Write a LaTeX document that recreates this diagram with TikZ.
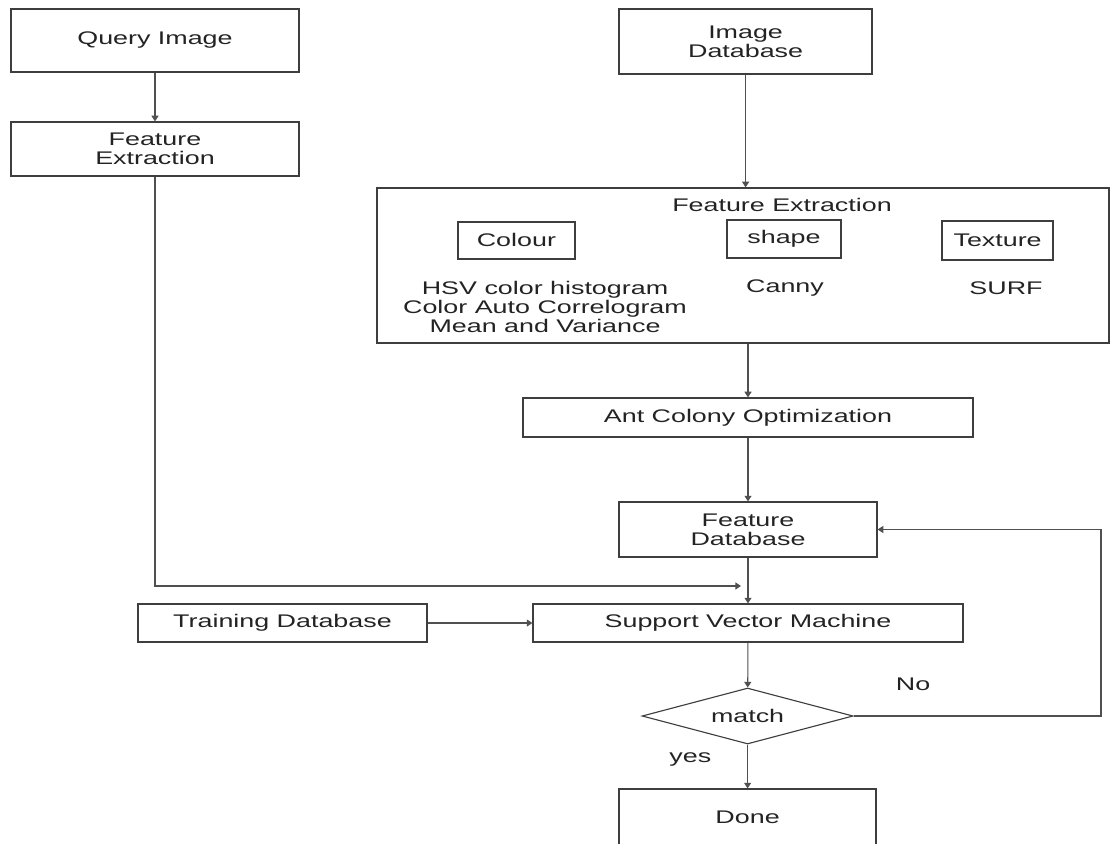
\documentclass[tikz,border=0pt]{standalone}
\usepackage{fontspec}
\setmainfont{Liberation Sans}[FakeStretch=1.47]
\usepackage{xcolor}
\usepackage{tikz}
\usetikzlibrary{arrows.meta,positioning,shapes.geometric}
\definecolor{boxgray}{RGB}{62,62,62}
\definecolor{wiregray}{RGB}{80,80,80}
\definecolor{inkgray}{RGB}{35,35,35}

\begin{document}
\begin{tikzpicture}[
  every node/.style={font=\fontsize{13}{13.5}\selectfont, text=inkgray},
  block/.style={draw=boxgray, line width=0.9pt, align=center, inner sep=0pt},
  decision/.style={diamond, draw=boxgray, line width=0.8pt, inner sep=0pt, aspect=3.8},
  arrow/.style={-{Triangle[length=4pt,width=5pt]}, draw=wiregray, line width=0.75pt}
]
  \useasboundingbox (0,-21.075) rectangle (27.775,0);
  \clip (0,-21.075) rectangle (27.775,0);

  % Query side (left column)
  \node[block, minimum width=7.2cm, minimum height=1.575cm] (qimg) at (3.875,-1.0125) {Query Image};
  \node[block, minimum width=7.2cm, minimum height=1.35cm] (fext1) at (3.875,-3.725) {Feature\\Extraction};

  % Database side with the feature extraction panel
  \node[block, minimum width=6.325cm, minimum height=1.625cm] (imgdb) at (18.64,-1.04) {Image\\Database};
  \node[block, minimum width=18.3cm, minimum height=3.875cm] (fext2) at (18.575,-6.6375) {};
  \node (fext2title) at (19.55,-5.125) {Feature Extraction};
  \node[block, minimum width=2.925cm, minimum height=0.925cm] (colour) at (12.91,-6.01) {Colour};
  \node[block, minimum width=2.85cm, minimum height=0.95cm] (shape) at (19.6,-5.975) {shape};
  \node[block, minimum width=2.775cm, minimum height=0.975cm] (texture) at (24.94,-6.01) {Texture};
  \node[align=center] (colourdesc) at (13.625,-7.675) {HSV color histogram\\Color Auto Correlogram\\Mean and Variance};
  \node (shapedesc) at (19.625,-7.2) {Canny};
  \node (texturedesc) at (25.15,-7.2) {SURF};

  % Optimisation and classification chain
  \node[block, minimum width=11.25cm, minimum height=0.975cm] (aco) at (18.7,-10.4375) {Ant Colony Optimization};
  \node[block, minimum width=6.45cm, minimum height=1.375cm] (fdb) at (18.7,-13.2375) {Feature\\Database};
  \node[block, minimum width=7.225cm, minimum height=0.95cm] (tdb) at (7.0625,-15.575) {Training Database};
  \node[block, minimum width=10.75cm, minimum height=0.95cm] (svm) at (18.7,-15.575) {Support Vector Machine};
  \node[decision, minimum width=5.275cm, minimum height=1.4cm] (match) at (18.69,-17.9) {match};
  \node[block, minimum width=6.425cm, minimum height=1.4cm] (done) at (18.69,-20.425) {Done};

  \coordinate (joinpt) at (18.525,-14.65);
  \coordinate (loopcorner) at (27.525,-17.9);

  % Connectors
  \draw[arrow] (qimg) -- (fext1);
  \draw[arrow] (fext1) |- (joinpt);
  \draw[arrow] (imgdb) -- (imgdb |- fext2.north);
  \draw[arrow] (aco.north |- fext2.south) -- (aco);
  \draw[arrow] (aco) -- (fdb);
  \draw[arrow] (fdb) -- (svm);
  \draw[arrow] (tdb) -- (svm);
  \draw[arrow] (svm) -- (match);
  \draw[arrow] (match) -- node[pos=0.35, left=0.78cm] {yes} (done);
  \draw[arrow] (match.east) -- node[pos=0.24, yshift=0.8cm] {No} (loopcorner) |- (fdb.east);

\end{tikzpicture}
\end{document}
